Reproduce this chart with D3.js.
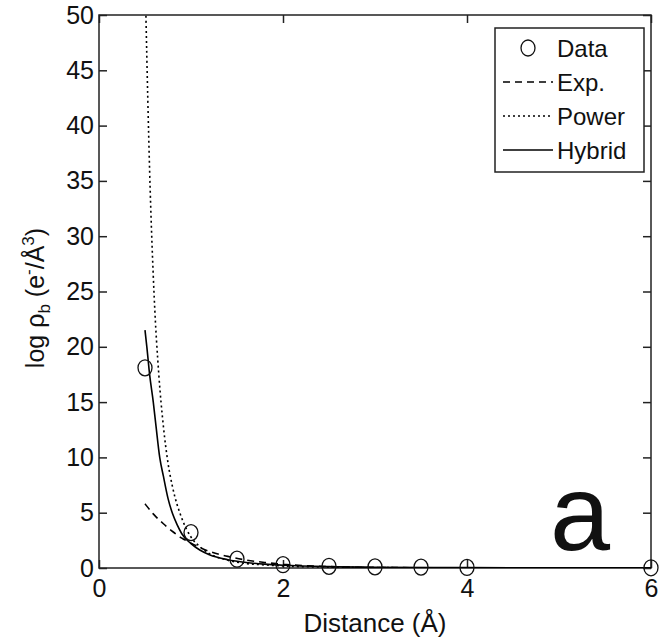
<!DOCTYPE html>
<html>
<head>
<meta charset="utf-8">
<script src="https://cdn.jsdelivr.net/npm/d3@7"></script>
<style>
  body { margin: 0; background: #fff; }
  svg text { font-family: "Liberation Sans", Arial, sans-serif; fill: #111; }
</style>
</head>
<body>
<svg id="chart" width="660" height="644"></svg>
<script>
// values
const dataPts = [[0.5, 18.1], [1, 3.2], [1.5, 0.8], [2, 0.3], [2.5, 0.15], [3, 0.1], [3.5, 0.08], [4, 0.05], [6, 0.02]];
const expPts = [[0.5, 5.8], [0.6, 4.8], [0.7, 4.0], [0.8, 3.3], [0.9, 2.7], [1.0, 2.25], [1.2, 1.5], [1.4, 1.05],
  [1.6, 0.72], [1.8, 0.5], [2.0, 0.34], [2.5, 0.13], [3, 0.05], [4, 0.01], [6, 0]];
const powerPts = [[0.5, 54], [0.51, 50], [0.55, 36], [0.6, 24.5], [0.65, 17.5], [0.7, 12.8], [0.75, 9.5], [0.8, 7.3],
  [0.9, 4.5], [1.0, 2.8], [1.1, 1.9], [1.2, 1.3], [1.4, 0.7], [1.6, 0.4], [1.8, 0.28], [2.0, 0.18],
  [2.5, 0.08], [3, 0.04], [4, 0.01], [6, 0]];
const hybridPts = [[0.5, 21.5], [0.52, 20], [0.55, 17.5], [0.59, 15], [0.62, 12.8], [0.66, 10], [0.7, 8.3],
  [0.75, 6.3], [0.8, 4.9], [0.85, 3.9], [0.9, 3.1], [1.0, 2.2], [1.1, 1.6], [1.2, 1.2], [1.4, 0.75],
  [1.6, 0.5], [1.8, 0.35], [2.0, 0.25], [2.5, 0.12], [3, 0.07], [4, 0.03], [6, 0.01]];
const xTicks = [0, 2, 4, 6];
const yTicks = [0, 5, 10, 15, 20, 25, 30, 35, 40, 45, 50];
const legendItems = ['Data', 'Exp.', 'Power', 'Hybrid'];

const svg = d3.select('#chart');
const pLeft = 99, pRight = 651, pTop = 15, pBottom = 568;

const x = d3.scaleLinear().domain([0, 6]).range([pLeft, pRight]);
const y = d3.scaleLinear().domain([0, 50]).range([pBottom, pTop]);

svg.append('clipPath').attr('id', 'clip')
  .append('rect').attr('x', pLeft).attr('y', pTop).attr('width', pRight - pLeft).attr('height', pBottom - pTop);

// axes with inward ticks on all four sides
const axisColor = '#222';
function styleAxis(g) {
  g.select('.domain').remove();
  g.selectAll('line').attr('stroke', axisColor).attr('stroke-width', 1.5);
  g.selectAll('text').attr('font-size', 25).attr('fill', '#1a1a1a');
}
svg.append('g').attr('transform', `translate(0,${pBottom})`)
  .call(d3.axisBottom(x).tickValues(xTicks).tickSize(-8).tickPadding(11).tickFormat(d3.format('d')))
  .call(styleAxis);
svg.append('g').attr('transform', `translate(0,${pTop})`)
  .call(d3.axisTop(x).tickValues(xTicks).tickSize(-8).tickFormat(''))
  .call(styleAxis);
svg.append('g').attr('transform', `translate(${pLeft},0)`)
  .call(d3.axisLeft(y).tickValues(yTicks).tickSize(-8).tickPadding(5).tickFormat(d3.format('d')))
  .call(styleAxis);
svg.append('g').attr('transform', `translate(${pRight},0)`)
  .call(d3.axisRight(y).tickValues(yTicks).tickSize(-8).tickFormat(''))
  .call(styleAxis);

svg.append('rect')
  .attr('x', pLeft).attr('y', pTop).attr('width', pRight - pLeft).attr('height', pBottom - pTop)
  .attr('fill', 'none').attr('stroke', axisColor).attr('stroke-width', 1.5);

// curves
const line = d3.line().x(d => x(d[0])).y(d => y(d[1])).curve(d3.curveMonotoneX);
const plot = svg.append('g').attr('clip-path', 'url(#clip)');
const curves = [
  { pts: expPts, dash: '7,5' },
  { pts: powerPts, dash: '2,3' },
  { pts: hybridPts, dash: null }
];
curves.forEach(c => {
  plot.append('path').datum(c.pts)
    .attr('d', line)
    .attr('fill', 'none')
    .attr('stroke', '#000')
    .attr('stroke-width', 1.6)
    .attr('stroke-dasharray', c.dash);
});

svg.append('g').selectAll('ellipse')
  .data(dataPts)
  .enter()
  .append('ellipse')
  .attr('cx', d => x(d[0]))
  .attr('cy', d => y(d[1]))
  .attr('rx', 7)
  .attr('ry', 8)
  .attr('fill', 'none')
  .attr('stroke', '#111')
  .attr('stroke-width', 1.3);

// axis labels
svg.append('text')
  .attr('x', (pLeft + pRight) / 2).attr('y', 632)
  .attr('text-anchor', 'middle').attr('font-size', 26)
  .text('Distance (Å)');

const ylab = svg.append('text')
  .attr('transform', 'translate(44,298) rotate(-90)')
  .attr('text-anchor', 'middle').attr('font-size', 25);
ylab.append('tspan').text('log ρ');
ylab.append('tspan').attr('font-size', 17).attr('dy', 6).text('b');
ylab.append('tspan').attr('dy', -6).text(' (e');
ylab.append('tspan').attr('font-size', 17).attr('dy', -10).text('-');
ylab.append('tspan').attr('dy', 10).text('/Å');
ylab.append('tspan').attr('font-size', 17).attr('dy', -10).text('3');
ylab.append('tspan').attr('dy', 10).text(')');

// legend
const lg = svg.append('g');
lg.append('rect')
  .attr('x', 495).attr('y', 28).attr('width', 149).attr('height', 144)
  .attr('fill', '#fff').attr('stroke', axisColor).attr('stroke-width', 1.5);
const rowY = d3.scalePoint().domain(legendItems).range([48, 150]);
lg.append('ellipse')
  .attr('cx', 528).attr('cy', rowY('Data')).attr('rx', 7).attr('ry', 8)
  .attr('fill', 'none').attr('stroke', '#111').attr('stroke-width', 1.3);
[['Exp.', '7,5'], ['Power', '2,3'], ['Hybrid', null]].forEach(([k, dash]) => {
  lg.append('line')
    .attr('x1', 503).attr('x2', 553)
    .attr('y1', rowY(k)).attr('y2', rowY(k))
    .attr('stroke', '#000').attr('stroke-width', 1.6)
    .attr('stroke-dasharray', dash);
});
lg.selectAll('text.leg')
  .data(legendItems)
  .enter()
  .append('text')
  .attr('class', 'leg')
  .attr('x', 557)
  .attr('y', d => rowY(d) + 9)
  .attr('font-size', 24)
  .text(d => d);

// panel letter
svg.append('text')
  .attr('x', 550).attr('y', 550)
  .attr('font-size', 108)
  .text('a');
</script>
</body>
</html>
